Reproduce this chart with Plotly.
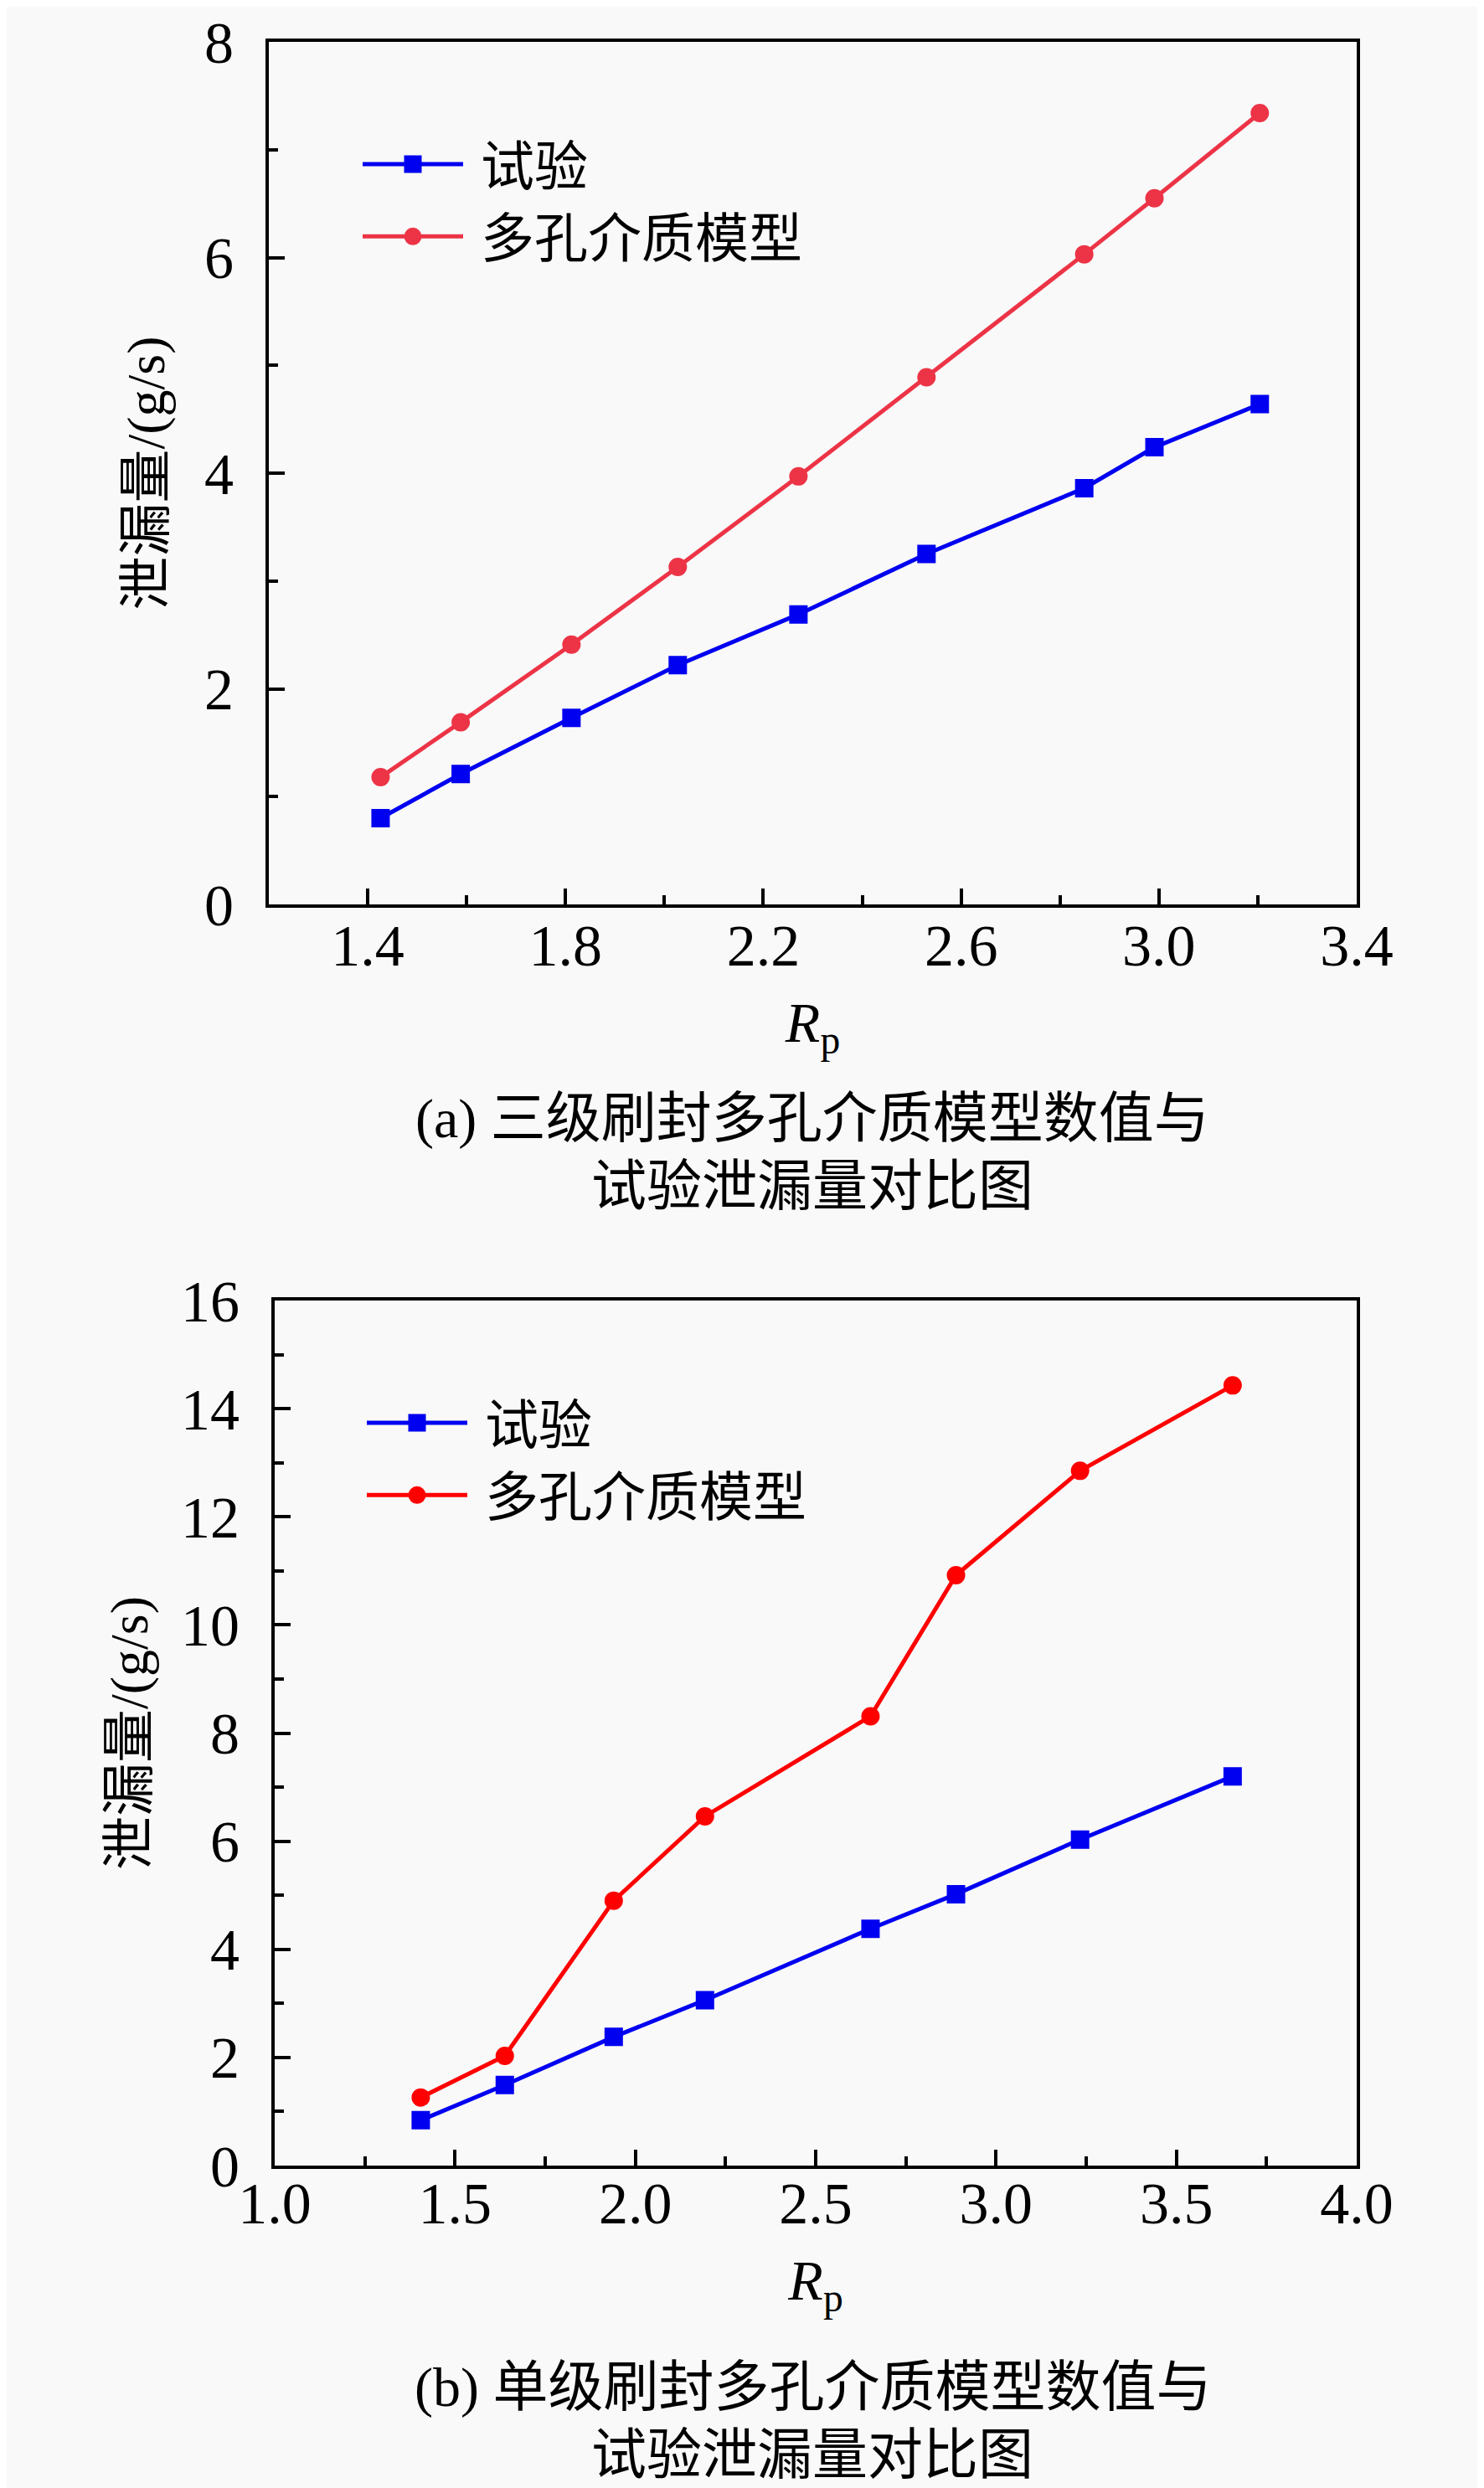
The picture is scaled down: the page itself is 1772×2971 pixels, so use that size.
import plotly.graph_objects as go

# ---- data: panel (a) three-stage brush seal ----
rp_a = [1.426, 1.588, 1.812, 2.027, 2.271, 2.530, 2.849, 2.991, 3.204]
test_a = [0.80, 1.21, 1.73, 2.22, 2.69, 3.25, 3.86, 4.24, 4.64]
model_a = [1.18, 1.69, 2.41, 3.13, 3.97, 4.89, 6.03, 6.55, 7.34]

# ---- data: panel (b) single-stage brush seal ----
rp_b = [1.405, 1.638, 1.940, 2.193, 2.652, 2.889, 3.233, 3.656]
test_b = [0.84, 1.49, 2.38, 3.06, 4.38, 5.02, 6.03, 7.20]
model_b = [1.26, 2.03, 4.90, 6.46, 8.31, 10.92, 12.85, 14.43]

name_test = "\u00a0试验"
name_model = "\u00a0多孔介质模型"
ytitle = "泄漏量/(g/s)"
xtitle = "<i>R</i><sub>p</sub>"
cap_a = ["(a) 三级刷封多孔介质模型数值与", "试验泄漏量对比图"]
cap_b = ["(b) 单级刷封多孔介质模型数值与", "试验泄漏量对比图"]

W, H = 1772, 2971
SERIF = "Liberation Serif, Noto Sans CJK SC"
BLUE = "#0000f0"
RED_A = "#ec3446"
RED_B = "#ff0000"
BG = "#f9f9f9"

def px(x):
    return x / W

def py(y):
    return 1 - y / H

fig = go.Figure()

def add(xs, ys, name, color, symbol, lw, xa, ya, lg):
    fig.add_trace(go.Scatter(x=xs, y=ys, name=name, mode="lines+markers",
                             line=dict(color=color, width=lw),
                             marker=dict(symbol=symbol, size=17, color=color,
                                         line=dict(color=color, width=5)),
                             xaxis=xa, yaxis=ya, legend=lg))

add(rp_a, test_a, name_test, BLUE, "square", 5, "x", "y", "legend")
add(rp_a, model_a, name_model, RED_A, "circle", 5, "x", "y", "legend")
add(rp_b, test_b, name_test, BLUE, "square", 5, "x2", "y2", "legend2")
add(rp_b, model_b, name_model, RED_B, "circle", 5, "x2", "y2", "legend2")

tickfont = dict(family=SERIF, size=70, color="black")
titlefont = dict(family=SERIF, size=64, color="black")
xtitlefont = dict(family=SERIF, size=68, color="black")

def xax(domain, anchor, rng, dtick, tick0, mdtick, mtick0, standoff):
    return dict(domain=domain, anchor=anchor, range=rng, dtick=dtick, tick0=tick0,
                automargin=False, ticklabeloverflow="allow",
                tickformat=".1f", ticks="inside", ticklen=19, tickwidth=4, tickcolor="black",
                showline=True, linewidth=4, linecolor="black", mirror=True,
                showgrid=False, zeroline=False, tickfont=tickfont,
                ticklabelstandoff=standoff,
                minor=dict(ticks="inside", ticklen=11, tickwidth=4, tickcolor="black",
                           dtick=mdtick, tick0=mtick0, showgrid=False),
                title=dict(text=xtitle, font=xtitlefont, standoff=30))

def yax(domain, anchor, rng, dtick, mdtick, standoff):
    return dict(domain=domain, anchor=anchor, range=rng, dtick=dtick, tick0=0,
                automargin=False, ticklabeloverflow="allow",
                ticks="inside", ticklen=19, tickwidth=4, tickcolor="black",
                showline=True, linewidth=4, linecolor="black", mirror=True,
                showgrid=False, zeroline=False, tickfont=tickfont,
                ticklabelstandoff=24,
                minor=dict(ticks="inside", ticklen=11, tickwidth=4, tickcolor="black",
                           dtick=mdtick, tick0=0, showgrid=False),
                title=dict(text=ytitle, font=titlefont, standoff=standoff))

legend_common = dict(font=dict(family=SERIF, size=64, color="black"),
                     bgcolor="rgba(0,0,0,0)", borderwidth=0, itemwidth=120,
                     xanchor="left", yanchor="top", tracegroupgap=0,
                     itemclick=False)

fig.update_layout(
    width=W, height=H,
    margin=dict(l=0, r=0, t=0, b=0, autoexpand=False),
    paper_bgcolor=BG, plot_bgcolor=BG,
    xaxis=xax([px(313), px(1612)], "y", [1.2, 3.4], 0.4, 1.4, 0.2, 1.2, -15),
    yaxis=yax([py(1072), py(42)], "x", [0, 8], 2, 1, 28),
    xaxis2=xax([px(320), px(1612)], "y2", [1.0, 4.0], 0.5, 1.0, 0.25, 1.0, -19),
    yaxis2=yax([py(2578), py(1545)], "x2", [0, 16], 2, 1, 20),
    legend=dict(x=px(420), y=py(140), **legend_common),
    legend2=dict(x=px(425), y=py(1643), **legend_common),
    showlegend=True,
)

capfont = dict(family=SERIF, size=66, color="black")
for txt, yc in [(cap_a[0], 1328), (cap_a[1], 1408), (cap_b[0], 2843), (cap_b[1], 2923)]:
    fig.add_annotation(text=txt, xref="paper", yref="paper", x=px(962), y=py(yc),
                       xanchor="center", yanchor="middle", showarrow=False, font=capfont)

fig.write_html("out.html")
